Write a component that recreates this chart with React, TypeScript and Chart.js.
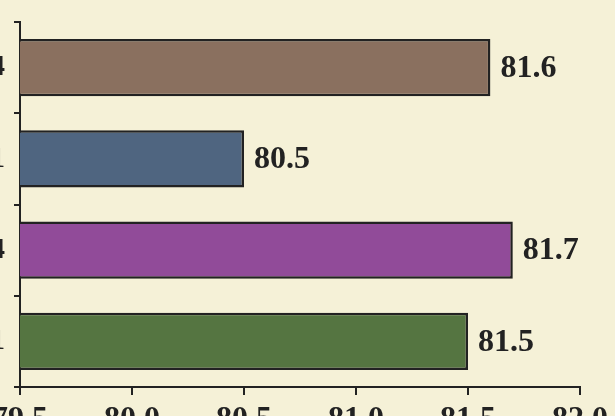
import React, { useEffect, useRef } from "react";
import { Chart, registerables } from "chart.js";

Chart.register(...registerables);

const categories = ["2014", "2011", "2014", "2011"];
const values = [81.6, 80.5, 81.7, 81.5];
const barColors = ["#8A705F", "#4F6580", "#914B99", "#557541"];
const xMin = 79.5;
const xMax = 82.0;
const xStep = 0.5;

const BG = "#F5F1D7";
const INK = "#222222";
const FONT = "'Liberation Serif', 'Times New Roman', serif";

const valueLabels = {
  id: "valueLabels",
  afterDatasetsDraw(chart: any) {
    const ctx = chart.ctx;
    const meta = chart.getDatasetMeta(0);
    ctx.save();
    ctx.font = `bold 32px ${FONT}`;
    ctx.fillStyle = INK;
    ctx.textAlign = "left";
    ctx.textBaseline = "middle";
    meta.data.forEach((bar: any, i: number) => {
      ctx.fillText(values[i].toFixed(1), bar.x + 10, bar.y + 1);
    });
    ctx.restore();
  },
};

const bgPlugin = {
  id: "bgFill",
  beforeDraw(chart: any) {
    const ctx = chart.ctx;
    ctx.save();
    ctx.fillStyle = BG;
    ctx.fillRect(0, 0, chart.width, chart.height);
    ctx.restore();
  },
};

export default function App() {
  const ref = useRef<HTMLCanvasElement | null>(null);
  useEffect(() => {
    if (!ref.current) return;
    const chart = new Chart(ref.current, {
      type: "bar",
      data: {
        labels: categories,
        datasets: [
          {
            data: values,
            backgroundColor: barColors,
            borderColor: INK,
            borderWidth: 2.5,
            borderSkipped: false,
            barPercentage: 0.625,
            categoryPercentage: 1,
          },
        ],
      },
      options: {
        indexAxis: "y",
        responsive: false,
        animation: false,
        layout: { padding: { top: 22, right: 35, left: 0, bottom: 0 } },
        plugins: {
          legend: { display: false },
          tooltip: { enabled: false },
        },
        scales: {
          x: {
            min: xMin,
            max: xMax,
            ticks: {
              stepSize: xStep,
              color: INK,
              padding: 6,
              maxRotation: 0,
              font: { family: FONT, size: 32, weight: "bold" },
              callback: (v: any) => Number(v).toFixed(1),
            },
            grid: {
              drawOnChartArea: false,
              drawTicks: true,
              tickLength: 8,
              color: INK,
              lineWidth: 2,
            },
            border: { color: INK, width: 2 },
            afterFit: (scale: any) => {
              scale.height = 29;
              scale.paddingLeft = 0;
              scale.paddingRight = 0;
              scale.paddingTop = 0;
              scale.paddingBottom = 0;
            },
          },
          y: {
            ticks: {
              color: INK,
              padding: 9,
              font: { family: FONT, size: 30, weight: "bold" },
            },
            grid: {
              drawOnChartArea: false,
              drawTicks: true,
              tickLength: 6,
              color: INK,
              lineWidth: 2,
            },
            border: { color: INK, width: 2 },
            afterFit: (scale: any) => {
              scale.width = 20;
              scale.paddingTop = 0;
              scale.paddingBottom = 0;
              scale.paddingLeft = 0;
              scale.paddingRight = 0;
            },
          },
        },
      },
      plugins: [bgPlugin, valueLabels],
    });
    return () => chart.destroy();
  }, []);
  return (
    <div
      style={{
        position: "fixed",
        left: 0,
        top: 0,
        width: 615,
        height: 416,
        background: BG,
        overflow: "hidden",
      }}
    >
      <canvas ref={ref} width={615} height={416} style={{ display: "block" }} />
    </div>
  );
}
